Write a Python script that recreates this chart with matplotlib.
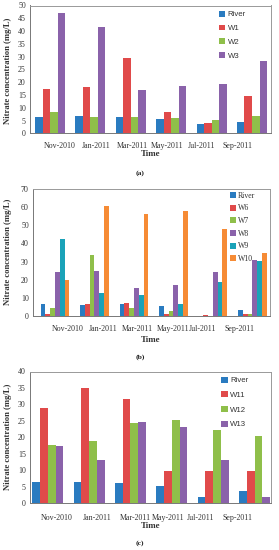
import matplotlib
matplotlib.use("Agg")
import matplotlib.pyplot as plt
import numpy as np

months = ["Nov-2010", "Jan-2011", "Mar-2011", "May-2011", "Jul-2011", "Sep-2011"]

# Panel (a)
a_series = ["River", "W1", "W2", "W3"]
a_river = [6.5, 6.9, 6.2, 5.5, 3.5, 4.6]
a_w1 = [17.4, 18.1, 29.4, 8.5, 4.2, 14.4]
a_w2 = [8.4, 6.4, 6.3, 6.0, 5.3, 6.8]
a_w3 = [47.1, 41.6, 17.1, 18.4, 19.2, 28.4]

# Panel (b)
b_series = ["River", "W6", "W7", "W8", "W9", "W10"]
b_river = [6.5, 5.8, 6.3, 5.2, 0.0, 3.0]
b_w6 = [1.0, 6.5, 7.3, 1.0, 0.3, 1.2]
b_w7 = [4.2, 33.5, 4.3, 2.5, 0.0, 0.8]
b_w8 = [24.0, 24.8, 15.2, 16.8, 24.3, 30.8]
b_w9 = [42.5, 12.8, 11.3, 6.5, 18.8, 30.3]
b_w10 = [20.0, 60.5, 56.2, 58.2, 48.0, 34.8]

# Panel (c)
c_series = ["River", "W11", "W12", "W13"]
c_river = [6.4, 6.3, 6.2, 5.2, 1.7, 3.7]
c_w11 = [28.8, 35.1, 31.5, 9.7, 9.7, 9.7]
c_w12 = [17.6, 18.8, 24.2, 25.1, 22.3, 20.4]
c_w13 = [17.3, 13.2, 24.7, 23.2, 13.1, 1.8]

BLUE = "#2a7bc0"
RED = "#e04a4a"
GREEN = "#8fbf4a"
PURPLE = "#8a62aa"
CYAN = "#1aa2b8"
ORANGE = "#f68b35"

W, H = 279, 550
fig = plt.figure(figsize=(W / 100, H / 100), dpi=100)
SERIF = "Liberation Serif"
SANS = "Liberation Sans"


def add_axes(l, r, t, b):
    return fig.add_axes([l / W, 1 - b / H, (r - l) / W, (b - t) / H])


def panel(ax, data, names, colors, block, xlim, ymax, ystep, labpos, legfont,
          leg_anchor, leg_spacing, time_y, cap_y, cap, ylab_x, ylab_y, xpad):
    n = len(data)
    bw = block / n
    x = np.arange(len(months))
    for i, (vals, nm, c) in enumerate(zip(data, names, colors)):
        ax.bar(x - block / 2 + bw * (i + 0.5), vals, width=bw, color=c, label=nm,
               linewidth=0)
    ax.set_xlim(*xlim)
    ax.set_ylim(0, ymax)
    ax.set_yticks(np.arange(0, ymax + 0.1, ystep))
    ax.set_xticks(labpos)
    ax.set_xticklabels(months)
    for lab in ax.get_xticklabels() + ax.get_yticklabels():
        lab.set_fontfamily(SERIF)
        lab.set_fontsize(5.7)
        lab.set_color("#333333")
    ax.tick_params(axis="x", length=0, pad=xpad)
    ax.tick_params(axis="y", length=0, pad=3)
    for s in ax.spines.values():
        s.set_color("#999999")
        s.set_linewidth(0.7)
    ax.spines["left"].set_color("#777777")
    ax.spines["bottom"].set_color("#777777")
    leg = ax.legend(loc="upper left", bbox_to_anchor=leg_anchor, frameon=False,
                    prop={"family": legfont, "size": 5.6}, handlelength=0.8,
                    handleheight=0.8, handletextpad=0.3, labelspacing=leg_spacing,
                    borderpad=0, borderaxespad=0)
    for t in leg.get_texts():
        t.set_color("#333333")
    fig.text(ylab_x / W, 1 - ylab_y / H, "Nitrate concentration (mg/L)", rotation=90,
             ha="center", va="center", fontfamily=SERIF, fontweight="bold",
             fontsize=6.2, color="#333333")
    fig.text(151 / W, 1 - time_y / H, "Time", ha="center", va="center",
             fontfamily=SERIF, fontweight="bold", fontsize=6.4, color="#333333")
    fig.text(140 / W, 1 - cap_y / H, cap, ha="center", va="center",
             fontfamily=SERIF, fontweight="bold", fontsize=5.4, color="#222222")


# (a)
ax_a = add_axes(30, 271, 5.5, 133.3)
panel(ax_a, [a_river, a_w1, a_w2, a_w3], a_series, [BLUE, RED, GREEN, PURPLE],
      0.745, (-0.496, 5.47), 50, 5,
      [(p - 50) / 40.3 for p in [59.2, 96.2, 131.7, 167, 200.8, 236.7]],
      SANS, (0.785, 0.96), 0.8, 154, 173, "(a)", 8.5, 71, 6)

# (b)
ax_b = add_axes(33, 270, 189.3, 315.7)
panel(ax_b, [b_river, b_w6, b_w7, b_w8, b_w9, b_w10], b_series,
      [BLUE, RED, GREEN, PURPLE, CYAN, ORANGE],
      0.727, (-0.558, 5.447), 70, 10,
      [(p - 55) / 39.5 for p in [68, 103, 137, 173, 203, 240]],
      SERIF, (0.83, 0.98), 0.6, 340, 357, "(b)", 8.5, 252, 7)

# (c)
ax_c = add_axes(30, 270.7, 371.5, 503)
panel(ax_c, [c_river, c_w11, c_w12, c_w13], c_series, [BLUE, RED, GREEN, PURPLE],
      0.75, (-0.43, 5.39), 40, 5,
      [(p - 47.8) / 41.3 for p in [57, 97, 135, 168, 200, 237]],
      SANS, (0.795, 0.96), 0.9, 526, 543, "(c)", 8.5, 437, 8)

fig.savefig("out.png", dpi=100)
